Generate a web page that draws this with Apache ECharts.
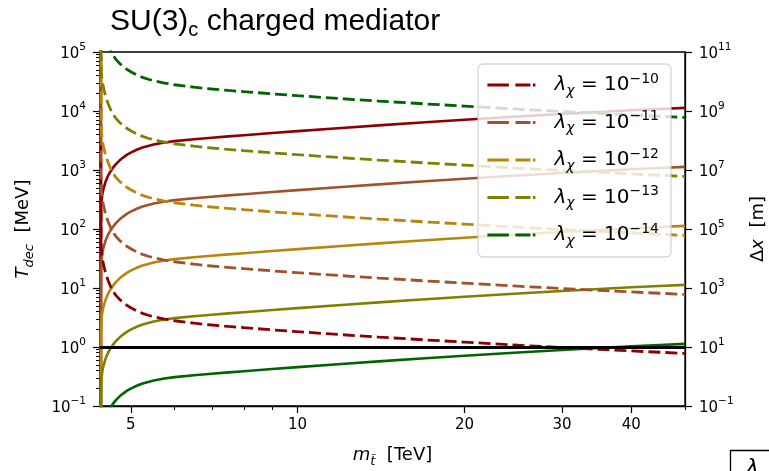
<!DOCTYPE html>
<html>
<head>
<meta charset="utf-8">
<script src="https://cdn.jsdelivr.net/npm/echarts@6/dist/echarts.min.js"></script>
<style>
  html, body { margin: 0; padding: 0; background: #fff; }
  #chart { width: 769px; height: 471px; }
</style>
</head>
<body>
<div id="chart"></div>
<script>
// Mediator mass grid [TeV]
const massTeV = [4.415, 4.42, 4.425, 4.44, 4.46, 4.5, 4.55, 4.6, 4.65, 4.7, 4.775, 4.85, 4.925, 5,
                 5.125, 5.25, 5.375, 5.5, 5.75, 6, 6.5, 7, 7.5, 8, 9, 10, 12, 14, 17, 20,
                 25, 30, 35, 40, 45, 50];

// Coupling exponents: lambda_chi = 10^exp
const lambdaExponents = [-10, -11, -12, -13, -14];
const lineColors = ['#8b0000', '#a0522d', '#b8860b', '#808000', '#006400'];

// Decoupling temperature T_dec [MeV]
const tdecL10 = [0.01, 214, 282, 372, 466, 624, 800, 955, 1110, 1260, 1460, 1640, 1820, 1970,
                 2200, 2400, 2560, 2700, 2920, 3090, 3330, 3520, 3710, 3890, 4240, 4560, 5160, 5710, 6460, 7110,
                 8070, 8890, 9620, 10300, 10800, 11300];
const tdecL11 = [0.001, 21.4, 28.2, 37.2, 46.6, 62.4, 80.0, 95.5, 111, 126, 146, 164, 182, 197,
                 220, 240, 256, 270, 292, 309, 333, 352, 371, 389, 424, 456, 516, 571, 646, 711,
                 807, 889, 962, 1030, 1080, 1130];
const tdecL12 = [0.0001, 2.14, 2.82, 3.72, 4.66, 6.24, 8.00, 9.55, 11.1, 12.6, 14.6, 16.4, 18.2, 19.7,
                 22.0, 24.0, 25.6, 27.0, 29.2, 30.9, 33.3, 35.2, 37.1, 38.9, 42.4, 45.6, 51.6, 57.1, 64.6, 71.1,
                 80.7, 88.9, 96.2, 103, 108, 113];
const tdecL13 = [0.00001, 0.214, 0.282, 0.372, 0.466, 0.624, 0.800, 0.955, 1.11, 1.26, 1.46, 1.64, 1.82, 1.97,
                 2.20, 2.40, 2.56, 2.70, 2.92, 3.09, 3.33, 3.52, 3.71, 3.89, 4.24, 4.56, 5.16, 5.71, 6.46, 7.11,
                 8.07, 8.89, 9.62, 10.3, 10.8, 11.3];
const tdecL14 = [0.000001, 0.0214, 0.0282, 0.0372, 0.0466, 0.0624, 0.0800, 0.0955, 0.111, 0.126, 0.146, 0.164, 0.182, 0.197,
                 0.220, 0.240, 0.256, 0.270, 0.292, 0.309, 0.333, 0.352, 0.371, 0.389, 0.424, 0.456, 0.516, 0.571, 0.646, 0.711,
                 0.807, 0.889, 0.962, 1.03, 1.08, 1.13];

// Decay length Delta x [m]
const dxL10 = [1e12, 3.47e4, 1.95e4, 1.10e4, 6670, 3390, 1800, 1100, 755, 562, 409, 315, 255, 214,
               168, 138, 119, 106, 88.7, 77.6, 64.0, 55.7, 49.8, 45.2, 38.1, 33.0, 26.2, 21.7, 17.4, 14.6,
               11.5, 9.59, 8.30, 7.35, 6.64, 6.05];
const dxL11 = [1e14, 3.47e6, 1.95e6, 1.10e6, 6.67e5, 3.39e5, 1.80e5, 1.10e5, 7.55e4, 5.62e4, 4.09e4, 3.15e4, 2.55e4, 2.14e4,
               1.68e4, 1.38e4, 1.19e4, 1.06e4, 8870, 7760, 6400, 5570, 4980, 4520, 3810, 3300, 2620, 2170, 1740, 1460,
               1150, 959, 830, 735, 664, 605];
const dxL12 = [1e16, 3.47e8, 1.95e8, 1.10e8, 6.67e7, 3.39e7, 1.80e7, 1.10e7, 7.55e6, 5.62e6, 4.09e6, 3.15e6, 2.55e6, 2.14e6,
               1.68e6, 1.38e6, 1.19e6, 1.06e6, 8.87e5, 7.76e5, 6.40e5, 5.57e5, 4.98e5, 4.52e5, 3.81e5, 3.30e5, 2.62e5, 2.17e5, 1.74e5, 1.46e5,
               1.15e5, 9.59e4, 8.30e4, 7.35e4, 6.64e4, 6.05e4];
const dxL13 = [1e18, 3.47e10, 1.95e10, 1.10e10, 6.67e9, 3.39e9, 1.80e9, 1.10e9, 7.55e8, 5.62e8, 4.09e8, 3.15e8, 2.55e8, 2.14e8,
               1.68e8, 1.38e8, 1.19e8, 1.06e8, 8.87e7, 7.76e7, 6.40e7, 5.57e7, 4.98e7, 4.52e7, 3.81e7, 3.30e7, 2.62e7, 2.17e7, 1.74e7, 1.46e7,
               1.15e7, 9.59e6, 8.30e6, 7.35e6, 6.64e6, 6.05e6];
const dxL14 = [1e20, 3.47e12, 1.95e12, 1.10e12, 6.67e11, 3.39e11, 1.80e11, 1.10e11, 7.55e10, 5.62e10, 4.09e10, 3.15e10, 2.55e10, 2.14e10,
               1.68e10, 1.38e10, 1.19e10, 1.06e10, 8.87e9, 7.76e9, 6.40e9, 5.57e9, 4.98e9, 4.52e9, 3.81e9, 3.30e9, 2.62e9, 2.17e9, 1.74e9, 1.46e9,
               1.15e9, 9.59e8, 8.30e8, 7.35e8, 6.64e8, 6.05e8];

// Tick positions
const xMajorTicks = [5, 10, 20, 30, 40];
const xMinorTicks = [6, 7, 8, 9, 50];
const leftDecades = [0.1, 1, 10, 100, 1000, 10000, 100000];
const rightDecades = [0.1, 10, 1e3, 1e5, 1e7, 1e9, 1e11];

const tdecSets = [tdecL10, tdecL11, tdecL12, tdecL13, tdecL14];
const dxSets = [dxL10, dxL11, dxL12, dxL13, dxL14];

const leftMinor = [];
for (let e = -1; e <= 4; e++) {
  for (let k = 2; k <= 9; k++) leftMinor.push(k * Math.pow(10, e));
}

const FONT = 'DejaVu Sans';
const supText = (n) => (n < 0 ? '\u2212' + Math.abs(n) : String(n));
const powLabel = (v) => '{b|10}{s|' + supText(Math.round(Math.log10(v))) + '}';
const tickRich = {
  b: { fontFamily: FONT, fontSize: 15, color: '#000', lineHeight: 20, verticalAlign: 'bottom' },
  s: { fontFamily: FONT, fontSize: 10.5, color: '#000', verticalAlign: 'top' }
};
const nameRich = {
  i: { fontFamily: FONT, fontStyle: 'italic', fontSize: 18, color: '#000', lineHeight: 26 },
  u: { fontFamily: FONT, fontSize: 18, color: '#000', lineHeight: 26 },
  d: { fontFamily: FONT, fontStyle: 'italic', fontSize: 13, color: '#000', verticalAlign: 'bottom' }
};
const blackLine = { show: true, lineStyle: { color: '#000', width: 1.3 } };

const series = [];
// reference line at T_dec = 1 MeV
series.push({
  type: 'line', name: 'ref', xAxisIndex: 0, yAxisIndex: 0, data: [], z: 1,
  markLine: {
    silent: true, symbol: ['none', 'none'], label: { show: false },
    lineStyle: { color: '#000', width: 2.8, type: 'solid' },
    data: [{ yAxis: 1 }]
  }
});
lambdaExponents.forEach((ex, k) => {
  series.push({
    type: 'line', name: 'T' + ex, xAxisIndex: 0, yAxisIndex: 0,
    data: massTeV.map((m, i) => [m, tdecSets[k][i]]),
    symbol: 'none', z: 3,
    lineStyle: { color: lineColors[k], width: 2.6, join: 'round' }
  });
});
lambdaExponents.forEach((ex, k) => {
  series.push({
    type: 'line', name: 'L' + ex, xAxisIndex: 0, yAxisIndex: 1,
    data: massTeV.map((m, i) => [m, dxSets[k][i]]),
    symbol: 'none', z: 3,
    itemStyle: { color: lineColors[k] },
    lineStyle: { color: lineColors[k], width: 2.8, type: [12, 5] }
  });
});

const chart = echarts.init(document.getElementById('chart'), null, { renderer: 'canvas' });
chart.setOption({
  animation: false,
  backgroundColor: '#fff',
  title: {
    text: '{a|SU(3)}{c|c}{a| charged mediator}',
    left: 110, top: 3, padding: 0,
    textStyle: {
      fontWeight: 'normal',
      rich: {
        a: { fontFamily: 'Liberation Sans', fontWeight: 'normal', fontSize: 30, color: '#000', lineHeight: 37 },
        c: { fontFamily: 'Liberation Sans', fontWeight: 'normal', fontSize: 20, color: '#000', verticalAlign: 'bottom' }
      }
    }
  },
  grid: { left: 100, right: 84, top: 52, bottom: 65, containLabel: false, outerBoundsMode: 'none',
          show: true, borderColor: '#000', borderWidth: 1.3 },
  legend: {
    data: lambdaExponents.map((ex) => 'L' + ex),
    orient: 'vertical', left: 478, top: 64,
    itemWidth: 48, itemHeight: 14, itemGap: 11.5,
    padding: [8, 12, 9, 8],
    selectedMode: false,
    backgroundColor: 'rgba(255,255,255,0.8)',
    borderColor: 'rgba(204,204,204,0.8)', borderWidth: 1.3, borderRadius: 5,
    itemStyle: { opacity: 0 },
    lineStyle: { width: 2.8, type: [21.5, 6.5, 15, 2.5, 2.5] },
    formatter: (name) => '{l|\u03bb}{x|\u03c7}{t| = 10}{p|' + supText(Number(name.slice(1))) + '}',
    textStyle: {
      rich: {
        l: { fontFamily: FONT, fontStyle: 'italic', fontSize: 20, color: '#000', lineHeight: 26, padding: [0, 0, 0, 14] },
        x: { fontFamily: FONT, fontStyle: 'italic', fontSize: 14, color: '#000', verticalAlign: 'bottom' },
        t: { fontFamily: FONT, fontSize: 20, color: '#000', lineHeight: 26 },
        p: { fontFamily: FONT, fontSize: 14, color: '#000', verticalAlign: 'top' }
      }
    }
  },
  xAxis: [
    {
      type: 'log', logBase: 10, min: 4.4, max: 50, position: 'bottom',
      axisLine: blackLine,
      axisTick: { show: true, customValues: xMajorTicks, length: 7, lineStyle: { color: '#000', width: 1.2 } },
      axisLabel: { customValues: xMajorTicks, formatter: (v) => String(Math.round(v)),
                   fontFamily: FONT, fontSize: 15, color: '#000', margin: 12 },
      splitLine: { show: false },
      name: '{i|m}{d|t\u0303}{u|  [TeV]}', nameLocation: 'middle', nameGap: 36,
      nameTextStyle: { rich: nameRich }
    },
    {
      type: 'log', logBase: 10, min: 4.4, max: 50, position: 'bottom',
      axisLine: { show: false },
      axisTick: { show: true, customValues: xMinorTicks, length: 4, lineStyle: { color: '#000', width: 1 } },
      axisLabel: { show: false }, splitLine: { show: false }
    }
  ],
  yAxis: [
    {
      type: 'log', logBase: 10, min: 0.1, max: 1e5, position: 'left',
      axisLine: blackLine,
      axisTick: { show: true, customValues: leftDecades, length: 7, lineStyle: { color: '#000', width: 1.2 } },
      axisLabel: { customValues: leftDecades, formatter: powLabel, rich: tickRich, margin: 14 },
      splitLine: { show: false },
      name: '{i|T}{d|dec}{u|  [MeV]}', nameLocation: 'middle', nameGap: 64, nameRotate: 90,
      nameTextStyle: { rich: nameRich }
    },
    {
      type: 'log', logBase: 10, min: 0.1, max: 1e11, position: 'right',
      axisLine: blackLine,
      axisTick: { show: true, customValues: rightDecades, length: 7, lineStyle: { color: '#000', width: 1.2 } },
      axisLabel: { customValues: rightDecades, formatter: powLabel, rich: tickRich, margin: 14 },
      splitLine: { show: false },
      name: '{u|\u0394}{i|x}{u|  [m]}', nameLocation: 'middle', nameGap: 60, nameRotate: 90,
      nameTextStyle: { rich: nameRich }
    },
    {
      type: 'log', logBase: 10, min: 0.1, max: 1e5, position: 'left',
      axisLine: { show: false },
      axisTick: { show: true, customValues: leftMinor, length: 4, lineStyle: { color: '#000', width: 1 } },
      axisLabel: { show: false }, splitLine: { show: false }
    }
  ],
  graphic: [
    { type: 'rect', shape: { x: 730.5, y: 450.5, width: 60, height: 40 },
      style: { fill: '#fff', stroke: '#000', lineWidth: 1.3 }, z: 10 },
    { type: 'text', x: 746, y: 457, z: 11,
      style: { text: '\u03bb', fontFamily: FONT, fontStyle: 'italic', fontSize: 22, fill: '#000' } }
  ],
  series: series
});
</script>
</body>
</html>
